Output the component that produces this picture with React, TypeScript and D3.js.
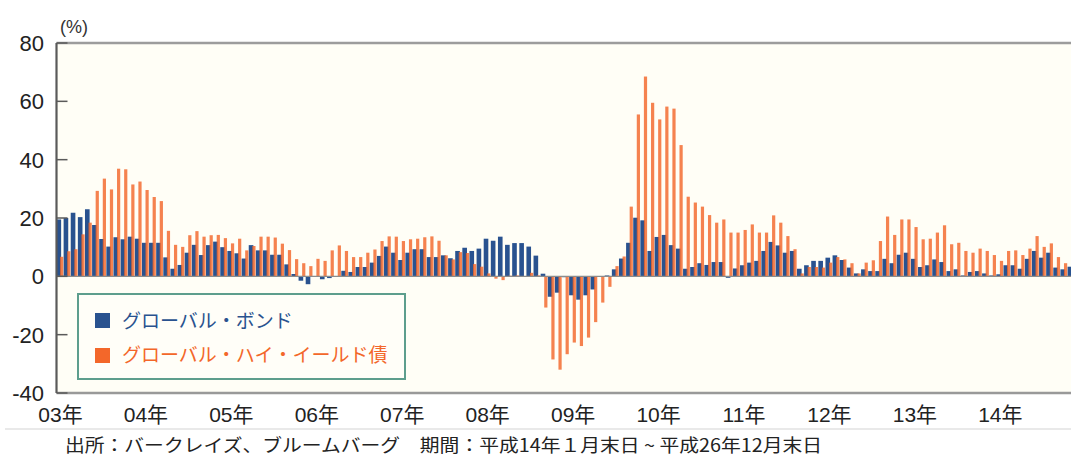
import React from 'react';
import * as d3 from 'd3';

// 12-month returns (%), Jan 2003 .. Dec 2014
const years = ['03年', '04年', '05年', '06年', '07年', '08年', '09年', '10年', '11年', '12年', '13年', '14年'];

const globalBond = [
  19.5, 20.0, 21.8, 20.3, 23.0, 17.6, 12.8, 10.2, 13.4, 12.7, 13.6, 12.9,
  11.5, 11.5, 11.5, 6.5, 2.6, 3.9, 8.1, 10.8, 7.3, 10.7, 11.9, 10.0,
  8.7, 7.9, 6.1, 10.7, 8.9, 8.9, 7.4, 7.4, 4.1, 0.8, -1.5, -2.7,
  0.0, -1.0, -0.6, 0.1, 1.9, 1.5, 3.2, 3.2, 4.7, 7.0, 10.2, 8.1,
  5.6, 8.1, 9.3, 9.3, 6.6, 6.6, 7.2, 6.2, 8.7, 9.8, 8.7, 9.5,
  12.9, 12.2, 13.6, 10.8, 11.4, 11.4, 10.2, 7.1, 0.9, -7.0, -5.6, -0.3,
  -6.5, -8.0, -6.5, -4.5, 0.0, 0.3, 2.4, 6.1, 11.5, 20.1, 19.2, 8.7,
  13.5, 14.2, 10.7, 9.5, 2.6, 3.2, 4.5, 3.9, 4.9, 4.9, -0.5, 2.7,
  3.8, 4.7, 5.3, 8.7, 11.8, 10.6, 8.1, 8.7, 2.6, 3.8, 5.3, 5.3,
  6.4, 7.2, 5.6, 3.0, 1.0, 2.4, 1.8, 1.8, 6.0, 4.5, 7.4, 8.1,
  6.0, 3.2, 3.8, 5.8, 4.9, 1.8, 2.4, 0.3, 1.5, 1.8, 1.0, 0.3,
  0.7, 3.8, 3.8, 2.6, 6.0, 8.7, 6.4, 8.1, 3.0, 2.4, 3.3, 2.5,
];

const globalHighYield = [
  6.7, 8.6, 9.3, 14.4, 18.4, 29.3, 33.5, 29.8, 36.9, 36.7, 31.5, 32.5,
  29.6, 27.2, 25.8, 15.6, 10.8, 10.1, 14.1, 15.5, 13.6, 14.1, 14.2, 13.1,
  11.3, 12.9, 8.9, 10.4, 13.6, 13.6, 13.3, 11.2, 9.0, 5.9, 4.5, 3.5,
  6.0, 5.3, 8.9, 10.6, 8.7, 6.6, 6.6, 8.1, 9.2, 12.1, 13.7, 13.6,
  12.1, 12.7, 12.9, 13.4, 13.7, 12.2, 7.2, 5.8, 8.3, 8.0, 4.2, 3.3,
  1.0, -0.8, -1.3, 0.2, 0.3, -0.1, 1.2, 0.3, -10.7, -28.5, -32.0, -26.7,
  -22.7, -23.9, -21.0, -15.7, -9.0, -3.6, 3.5, 6.8, 23.9, 55.5, 68.5, 59.5,
  53.8, 58.2, 57.5, 45.0, 27.3, 25.3, 23.9, 21.0, 18.4, 19.5, 15.0, 15.0,
  15.9, 17.8, 15.0, 15.0, 20.9, 18.4, 13.8, 9.3, 1.0, 3.2, 3.2, 3.0,
  4.7, 6.6, 5.8, 4.5, 1.0, 4.7, 5.5, 12.1, 20.5, 14.2, 19.5, 19.5,
  16.9, 12.7, 12.9, 15.0, 17.5, 11.0, 11.5, 8.7, 8.1, 9.5, 8.7, 7.3,
  5.3, 8.7, 8.9, 7.3, 9.5, 13.8, 10.1, 11.3, 6.6, 4.5, 3.0, 3.5,
];

const yTicks = [80, 60, 40, 20, 0, -20, -40];
const seriesNames = ['グローバル・ボンド', 'グローバル・ハイ・イールド債'];

const BLUE = '#29528f';
const ORANGE = '#f3672a';
const W = 1071;
const H = 462;
const left = 56.5;
const top = 43;
const bottom = 393;

export default function App() {
  const months = d3.range(globalBond.length);
  // chart is cropped on the right, the last month falls outside the picture
  const x = d3.scaleBand<number>()
    .domain(months)
    .range([left, left + 7.12 * months.length])
    .padding(0);
  const bw = x.bandwidth();
  const y = d3.scaleLinear().domain([-40, 80]).range([bottom, top]);
  const y0 = y(0);

  const numFont = '"Liberation Sans", Arial, "Noto Sans CJK JP", sans-serif';
  const jpFont = '"Noto Sans CJK JP", sans-serif';

  return (
    <svg width={W} height={H} style={{ position: 'absolute', left: 0, top: 0, background: '#fff' }}>
      <rect x={left} y={top} width={W - left} height={bottom - top} fill="#fffef6" />

      {months.map(i => {
        const v = globalBond[i];
        return (
          <rect key={'b' + i} x={x(i)!} width={bw * 0.65}
            y={Math.min(y(v), y0)} height={Math.abs(y(v) - y0)} fill={BLUE} />
        );
      })}
      {months.map(i => {
        const v = globalHighYield[i];
        return (
          <rect key={'o' + i} x={x(i)! + bw * 0.5} width={bw * 0.45}
            y={Math.min(y(v), y0)} height={Math.abs(y(v) - y0)} fill={ORANGE} fillOpacity={0.82} />
        );
      })}

      <line x1={left} x2={W} y1={y0} y2={y0} stroke="#8c8c8c" strokeWidth={1.2} />
      <line x1={left} x2={W} y1={top} y2={top} stroke="#9c9c9c" strokeWidth={2.6} />
      <line x1={left} x2={W} y1={bottom} y2={bottom} stroke="#999" strokeWidth={2.4} />
      <line x1={left} x2={left} y1={top} y2={bottom} stroke="#5a5a5a" strokeWidth={2.2} />

      {yTicks.map(t => (
        <g key={t}>
          <line x1={left} x2={left + 11} y1={y(t)} y2={y(t)} stroke="#5a5a5a" strokeWidth={1.5} />
          <text x={44} y={y(t)} dy="0.36em" textAnchor="end" fontSize={22}
            fontFamily={numFont} fill="#222">{t}</text>
        </g>
      ))}
      <text x={60} y={33} fontSize={18} fontFamily={numFont} fill="#333">(%)</text>

      {years.map((lab, k) => (
        <text key={lab} x={x(k * 12)! + 4} y={422} textAnchor="middle" fontSize={21}
          fontFamily={numFont} fill="#222">{lab}</text>
      ))}

      <g>
        <rect x={78} y={294} width={327} height={85} fill="#fffef8" stroke="#5d9e8d" strokeWidth={2} />
        <rect x={95} y={313} width={15} height={15} fill={BLUE} />
        <text x={122} y={321} dy="0.36em" fontSize={19} fontFamily={jpFont} fill={BLUE}>{seriesNames[0]}</text>
        <rect x={95} y={348} width={15} height={15} fill={ORANGE} />
        <text x={122} y={355} dy="0.36em" fontSize={19} fontFamily={jpFont} fill={ORANGE}>{seriesNames[1]}</text>
      </g>

      <line x1={5} x2={W} y1={429} y2={429} stroke="#e2e2e2" strokeWidth={1.5} />
      <text x={65} y={452} fontSize={18} fontFamily={jpFont} fill="#222"
        textLength={757} lengthAdjust="spacingAndGlyphs">
        出所：バークレイズ、ブルームバーグ　期間：平成14年１月末日 ~ 平成26年12月末日
      </text>
    </svg>
  );
}
